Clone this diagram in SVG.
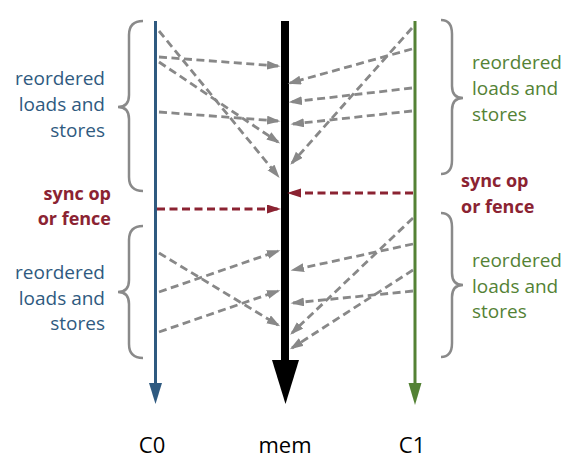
<svg xmlns="http://www.w3.org/2000/svg" width="584" height="464" viewBox="0 0 584 464">
<style>
.lbl{font-family:"Open Sans","Noto Sans",sans-serif;font-size:19px}
.sync{font-family:"Open Sans","Noto Sans",sans-serif;font-size:18px;font-weight:bold;fill:#8B2332}
.axis{font-family:"Open Sans","Noto Sans",sans-serif;font-size:22px;fill:#000}
.blue{fill:#2F5A80}
.green{fill:#548235}
.brace{fill:none;stroke:#8A8A8A;stroke-width:2.5}
.g{fill:none;stroke:#888;stroke-width:2.8;stroke-dasharray:8 4.5;marker-end:url(#ag)}
.r{fill:none;stroke:#8B2332;stroke-width:2.8;stroke-dasharray:8 4.5;marker-end:url(#ar)}
</style>
<defs>
<marker id="ag" markerUnits="userSpaceOnUse" markerWidth="15" markerHeight="10" refX="11" refY="4.5" orient="auto"><path d="M0,0 L13.5,4.5 L0,9 z" fill="#888"/></marker>
<marker id="ar" markerUnits="userSpaceOnUse" markerWidth="16" markerHeight="10" refX="12" refY="4.5" orient="auto"><path d="M0,0 L14,4.5 L0,9 z" fill="#8B2332"/></marker>
</defs>
<rect width="584" height="464" fill="#fff"/>
<g id="C0">
<line x1="155.5" y1="21" x2="155.5" y2="386" stroke="#2F5A80" stroke-width="3"/>
<polygon points="149,383 162,383 155.5,404" fill="#2F5A80"/>
<text class="axis" x="152" y="453" text-anchor="middle">C0</text>
</g>
<g id="mem">
<rect x="281" y="21" width="8" height="341" fill="#000"/>
<polygon points="272,360 299,360 285.5,404" fill="#000"/>
<text class="axis" x="285" y="453" text-anchor="middle">mem</text>
</g>
<g id="C1">
<line x1="415" y1="21" x2="415" y2="386" stroke="#548235" stroke-width="3"/>
<polygon points="408.5,383 421.5,383 415,405" fill="#548235"/>
<text class="axis" x="412" y="453" text-anchor="middle">C1</text>
</g>
<g id="brace-left-top">
<path class="brace" d="M143,21 Q129,21 129,35 L129,95 Q129,107 118,107 Q129,107 129,119 L129,177 Q129,191 143,191"/>
<text class="lbl blue" text-anchor="end"><tspan x="105" y="85">reordered</tspan><tspan x="105" y="111">loads and</tspan><tspan x="105" y="137">stores</tspan></text>
</g>
<g id="brace-left-bottom">
<path class="brace" d="M143,226 Q129,226 129,240 L129,280 Q129,292 118,292 Q129,292 129,304 L129,344 Q129,358 143,358"/>
<text class="lbl blue" text-anchor="end"><tspan x="105" y="279">reordered</tspan><tspan x="105" y="305">loads and</tspan><tspan x="105" y="330">stores</tspan></text>
</g>
<g id="brace-right-top">
<path class="brace" d="M441,20 Q452,20 452,34 L452,86 Q452,98 463,98 Q452,98 452,110 L452,160 Q452,174 441,174"/>
<text class="lbl green"><tspan x="472" y="69">reordered</tspan><tspan x="472" y="95">loads and</tspan><tspan x="472" y="121">stores</tspan></text>
</g>
<g id="brace-right-bottom">
<path class="brace" d="M441,213 Q452,213 452,227 L452,273 Q452,285 463,285 Q452,285 452,297 L452,343 Q452,357 441,357"/>
<text class="lbl green"><tspan x="472" y="267">reordered</tspan><tspan x="472" y="293">loads and</tspan><tspan x="472" y="318">stores</tspan></text>
</g>
<g id="sync-left">
<text class="sync" text-anchor="end"><tspan x="111" y="200">sync op</tspan><tspan x="111" y="225">or fence</tspan></text>
</g>
<g id="sync-right">
<text class="sync"><tspan x="461" y="187">sync op</tspan><tspan x="461" y="213">or fence</tspan></text>
</g>
<g id="connectors">
<line class="g" x1="159" y1="31" x2="278" y2="176"/>
<line class="g" x1="159" y1="57" x2="278" y2="66"/>
<line class="g" x1="159" y1="62" x2="278" y2="142"/>
<line class="g" x1="159" y1="112" x2="278" y2="121"/>
<line class="r" x1="157" y1="209" x2="279" y2="209"/>
<line class="g" x1="412" y1="28" x2="292" y2="163"/>
<line class="g" x1="412" y1="49" x2="290" y2="83"/>
<line class="g" x1="412" y1="88" x2="291" y2="102"/>
<line class="g" x1="412" y1="111" x2="293" y2="124"/>
<line class="r" x1="413" y1="193" x2="289" y2="193"/>
<line class="g" x1="159" y1="253" x2="278" y2="325"/>
<line class="g" x1="159" y1="292" x2="278" y2="251"/>
<line class="g" x1="159" y1="332" x2="278" y2="291"/>
<line class="g" x1="413" y1="218" x2="292" y2="333"/>
<line class="g" x1="413" y1="244" x2="293" y2="270"/>
<line class="g" x1="413" y1="270" x2="292" y2="348"/>
<line class="g" x1="413" y1="291" x2="293" y2="303"/>
</g>
</svg>
